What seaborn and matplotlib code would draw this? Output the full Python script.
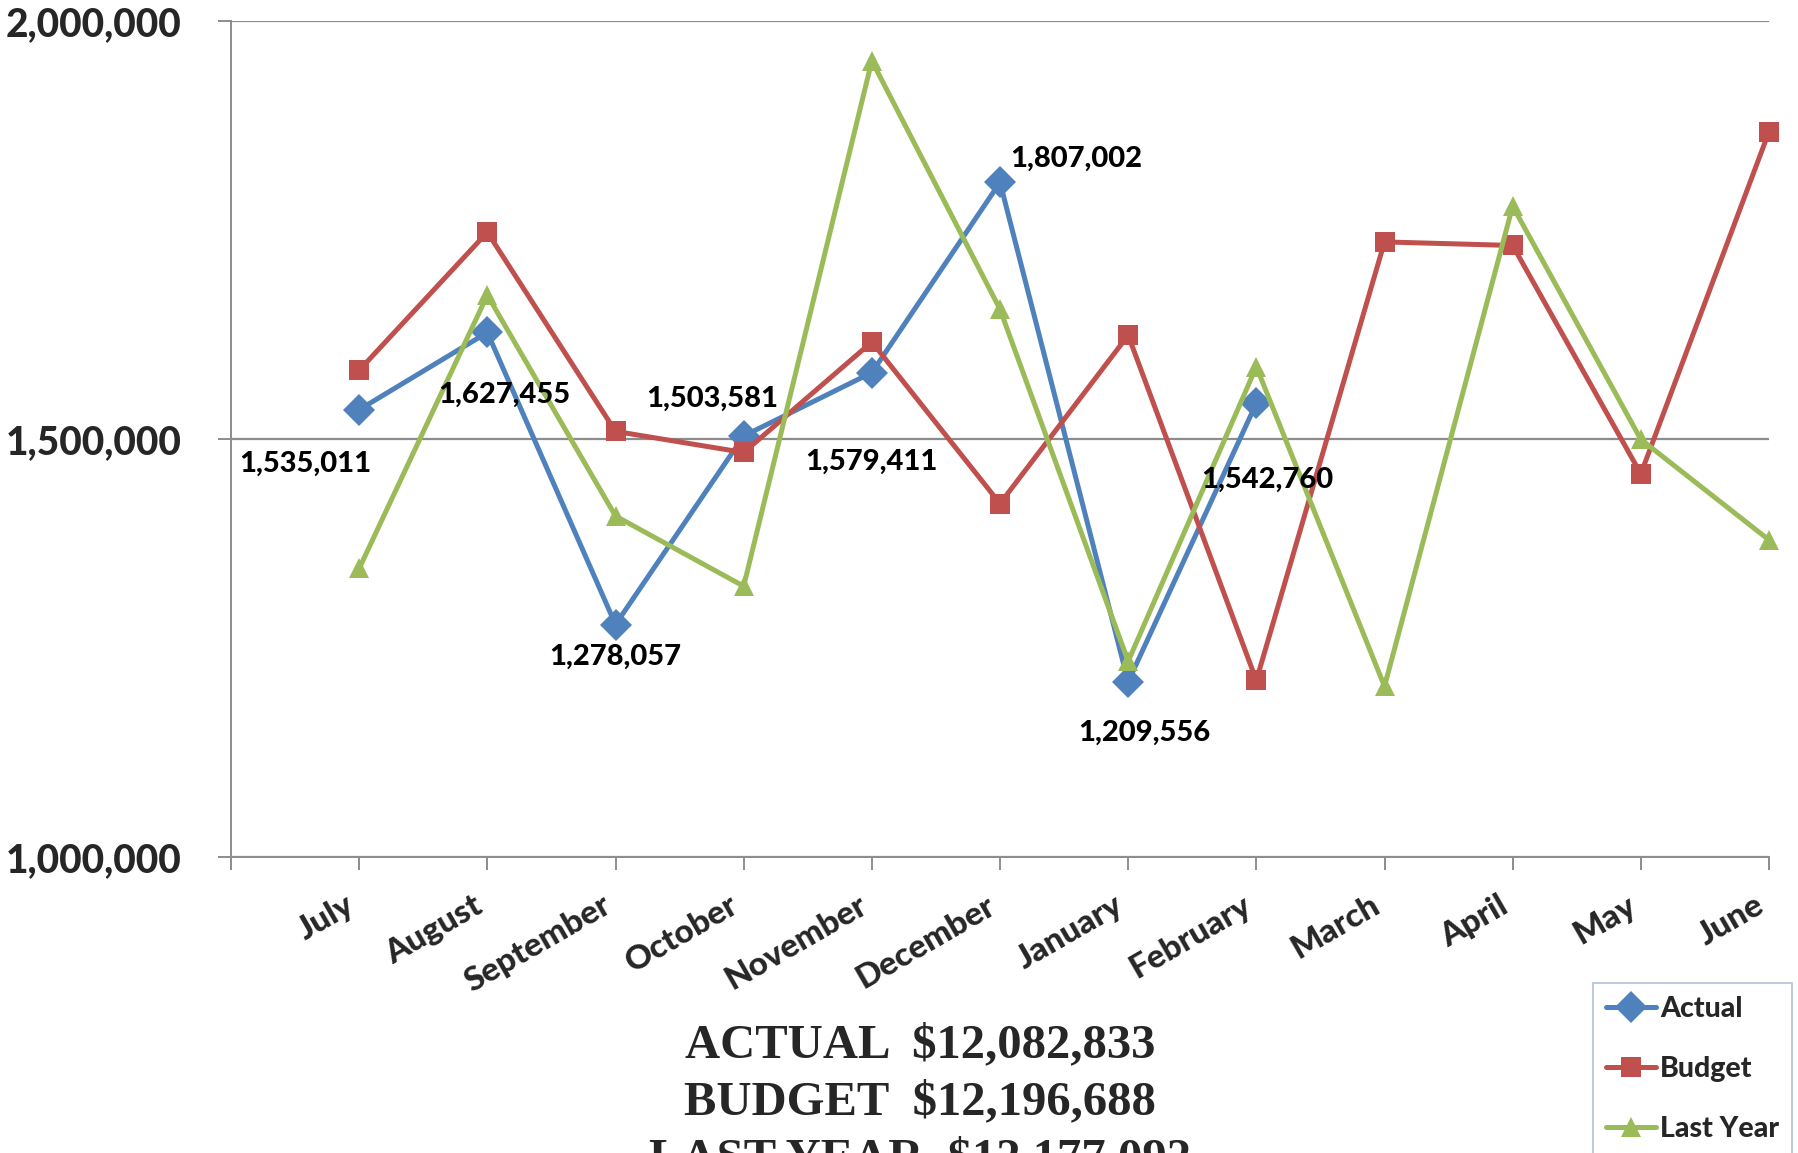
import matplotlib
matplotlib.use("Agg")
import matplotlib.pyplot as plt
import matplotlib.transforms as mtransforms
import seaborn as sns
import pandas as pd

# Monthly figures, fiscal year July - June
months = ["July", "August", "September", "October", "November", "December",
          "January", "February", "March", "April", "May", "June"]
actual = [1535011, 1627455, 1278057, 1503581, 1579411, 1807002, 1209556, 1542760]
budget = [1582214, 1747331, 1509127, 1483862, 1616045, 1422759, 1624118, 1211232,
          1735742, 1731480, 1458310, 1867590]
last_year = [1345116, 1672058, 1407874, 1323905, 1952411, 1655227, 1233990, 1586511,
             1204063, 1778520, 1499480, 1379240]

# Label offsets (points) for the actual-value annotations
label_offsets = [(-39, -39), (12, -45), (0, -23), (-23, 27),
                 (0, -64), (55, 17), (12, -37), (8, -55)]

sns.set_style("white")
plt.rcParams["font.family"] = ["Lato", "DejaVu Sans"]
plt.rcParams["font.weight"] = "heavy"
W = 900

BLUE, RED, GREEN = "#4F81BD", "#C0504D", "#9BBB59"
GREY = "#8C8C8C"

fig = plt.figure(figsize=(17.98, 11.53), dpi=100)
ax = fig.add_axes([231 / 1798, 1 - 857 / 1153, (1769 - 231) / 1798, (857 - 21) / 1153])

pos = list(range(1, 13))
df_a = pd.DataFrame({"x": pos[:len(actual)], "v": actual})
df_b = pd.DataFrame({"x": pos, "v": budget})
df_l = pd.DataFrame({"x": pos, "v": last_year})

common = dict(linewidth=3.6, markeredgewidth=0, clip_on=False, ax=ax)
sns.lineplot(data=df_a, x="x", y="v", color=BLUE, marker="D", markersize=16.5,
             label="Actual", zorder=3, **common)
sns.lineplot(data=df_b, x="x", y="v", color=RED, marker="s", markersize=14.5,
             label="Budget", zorder=4, **common)
sns.lineplot(data=df_l, x="x", y="v", color=GREEN, marker="^", markersize=15,
             label="Last Year", zorder=5, **common)

# Value labels on the actual series
for x, v, (dx, dy) in zip(pos, actual, label_offsets):
    ax.annotate(f"{v:,}", (x, v), xytext=(dx, dy), textcoords="offset points",
                ha="center", va="center", fontsize=21, fontweight=W,
                color="black", zorder=10)

ax.set_xlim(0, 12)
ax.set_ylim(1_000_000, 2_000_000)
ax.set_yticks([1_000_000, 1_500_000, 2_000_000])
ax.set_yticklabels([f"{t:,}" for t in [1_000_000, 1_500_000, 2_000_000]],
                   fontsize=28, fontweight=W)
ax.set_xticks(range(13))
ax.set_xticklabels([""] + months, rotation=30, ha="right",
                   fontsize=24, fontweight=W)
shift = mtransforms.ScaledTranslation(6 / 72, 0, fig.dpi_scale_trans)
for lbl in ax.get_xticklabels():
    lbl.set_transform(lbl.get_transform() + shift)
ax.set_xlabel("")
ax.set_ylabel("")

ax.yaxis.grid(True, color=GREY, linewidth=1.6)
ax.xaxis.grid(False)
for side in ["top", "right"]:
    ax.spines[side].set_visible(False)
for side in ["left", "bottom"]:
    ax.spines[side].set_color(GREY)
    ax.spines[side].set_linewidth(1.4)
ax.tick_params(axis="y", length=9.5, width=1.4, color=GREY, pad=26, left=True)
ax.tick_params(axis="x", length=9, width=1.4, color=GREY, pad=15, bottom=True)

leg = ax.legend(loc="upper left", bbox_to_anchor=(1593 / 1798, 1 - 983 / 1153),
                bbox_transform=fig.transFigure, borderaxespad=0,
                prop={"family": "Lato", "weight": W, "size": 20.5},
                frameon=True, fancybox=False, handlelength=1.75,
                handletextpad=0.15, labelspacing=1.2, borderpad=0.45)
leg.get_frame().set_edgecolor("#9DB2D1")
leg.get_frame().set_linewidth(1.2)

# Season totals through the latest actual month
n = len(actual)
totals = [("ACTUAL", sum(actual)), ("BUDGET", sum(budget[:n])),
          ("LAST YEAR", sum(last_year[:n]))]
for i, (name, total) in enumerate(totals):
    fig.text(920 / 1798, 1 - (1057 + 57 * i) / 1153, f"{name}  ${total:,}",
             ha="center", va="baseline", fontsize=35, fontweight="bold",
             family=["Liberation Serif", "DejaVu Serif"])

fig.savefig("out.png", dpi=100)
